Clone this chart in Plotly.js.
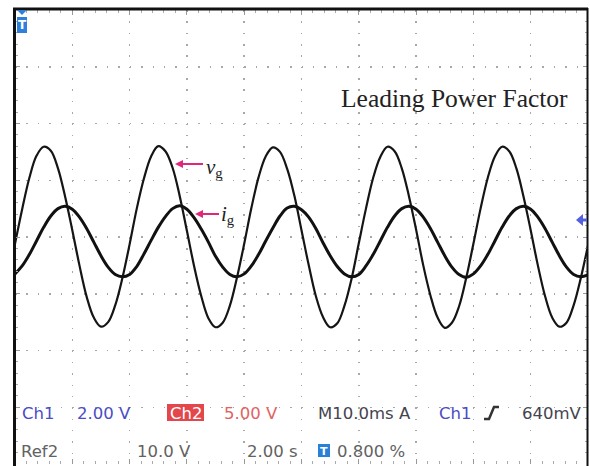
<!DOCTYPE html>
<html>
<head>
<meta charset="utf-8">
<script src="https://cdn.plot.ly/plotly-3.0.1.min.js"></script>
<style>html,body{margin:0;padding:0;background:#fff;}#chart{width:590px;height:466px;}</style>
</head>
<body>
<div id="chart"></div>
<script>
// time axis in ms (10 ms / division), sampled every 1.25 ms
const timeMs = [0,1.25,2.5,3.75,5,6.25,7.5,8.75,10,11.25,12.5,13.75,15,16.25,17.5,18.75,
20,21.25,22.5,23.75,25,26.25,27.5,28.75,30,31.25,32.5,33.75,35,36.25,37.5,38.75,
40,41.25,42.5,43.75,45,46.25,47.5,48.75,50,51.25,52.5,53.75,55,56.25,57.5,58.75,
60,61.25,62.5,63.75,65,66.25,67.5,68.75,70,71.25,72.5,73.75,75,76.25,77.5,78.75,
80,81.25,82.5,83.75,85,86.25,87.5,88.75,90,91.25,92.5,93.75,95,96.25,97.5,98.75,100];

// grid voltage v_g, in screen divisions
const vg = [-0.12,0.49,1.04,1.43,1.59,1.52,1.21,0.71,0.12,-0.50,-1.05,-1.42,-1.58,-1.50,-1.20,-0.72,
-0.13,0.50,1.03,1.42,1.60,1.51,1.22,0.72,0.11,-0.51,-1.04,-1.43,-1.59,-1.51,-1.21,-0.71,
-0.12,0.51,1.05,1.42,1.58,1.50,1.20,0.73,0.12,-0.49,-1.04,-1.41,-1.59,-1.52,-1.21,-0.73,
-0.11,0.50,1.04,1.41,1.59,1.51,1.21,0.72,0.13,-0.50,-1.03,-1.42,-1.60,-1.51,-1.22,-0.72,
-0.12,0.50,1.04,1.42,1.59,1.51,1.21,0.71,0.12,-0.50,-1.04,-1.42,-1.58,-1.51,-1.20,-0.72,-0.15];

// grid current i_g, in screen divisions
const ig = [-0.65,-0.51,-0.31,-0.07,0.17,0.37,0.50,0.54,0.49,0.35,0.15,-0.09,-0.33,-0.53,-0.66,-0.70,
-0.66,-0.52,-0.30,-0.06,0.17,0.36,0.50,0.55,0.49,0.34,0.14,-0.09,-0.34,-0.53,-0.66,-0.70,
-0.65,-0.51,-0.31,-0.07,0.16,0.37,0.51,0.54,0.48,0.35,0.15,-0.10,-0.33,-0.52,-0.65,-0.70,
-0.66,-0.51,-0.31,-0.07,0.17,0.37,0.50,0.54,0.49,0.35,0.15,-0.09,-0.33,-0.53,-0.66,-0.71,
-0.65,-0.51,-0.31,-0.07,0.17,0.37,0.50,0.54,0.49,0.35,0.15,-0.09,-0.33,-0.53,-0.66,-0.70,-0.67];

const titleText = "Leading Power Factor";
const statusRow1 = ["Ch1", "2.00 V", "Ch2", "5.00 V", "M10.0ms A", "Ch1", "640mV"];
const statusRow2 = ["Ref2", "10.0 V", "2.00 s", "0.800 %"];

// pixel -> paper helpers (plot area: x 15..588, y 10..464)
const L = 15, R = 588, T = 10, B = 464;
const px = x => (x - L) / (R - L);
const py = y => (B - y) / (B - T);

const BLUE = '#4a4dc4', GRAYD = '#44444f', GRAY = '#626262', PINK = '#e0287a';
const font = (size, color, family) => ({family: family || 'DejaVu Sans', size: size, color: color});

function txt(text, x, y, f, anchor) {
  return {text: text, xref: 'paper', yref: 'paper', x: px(x), y: py(y),
    xanchor: anchor || 'left', yanchor: 'middle', showarrow: false, font: f};
}
function poly(pts) {
  return 'M' + pts.map(p => px(p[0]) + ',' + py(p[1])).join('L') + 'Z';
}
function hline(x0, x1, y, color, w) {
  return {type: 'line', xref: 'paper', yref: 'paper', x0: px(x0), x1: px(x1), y0: py(y), y1: py(y), line: {color: color, width: w}};
}
function vline(x, y0, y1, color, w) {
  return {type: 'line', xref: 'paper', yref: 'paper', x0: px(x), x1: px(x), y0: py(y0), y1: py(y1), line: {color: color, width: w}};
}
function fillPath(pts, color) {
  return {type: 'path', xref: 'paper', yref: 'paper', path: poly(pts), fillcolor: color, line: {width: 0}};
}

const traces = [
  {x: timeMs, y: vg, type: 'scatter', mode: 'lines', name: 'vg',
   line: {color: '#151515', width: 2.2, shape: 'spline', smoothing: 1}},
  {x: timeMs, y: ig, type: 'scatter', mode: 'lines', name: 'ig',
   line: {color: '#111', width: 3, shape: 'spline', smoothing: 1}}
];

const annotations = [
  txt(titleText, 339, 99, font(25.5, '#222', 'Liberation Serif')),
  txt('<i>v</i><sub>g</sub>', 204, 168, font(21, '#222', 'Liberation Serif')),
  txt('<i>i</i><sub>g</sub>', 219, 215, font(21, '#222', 'Liberation Serif')),
  // status row 1
  txt(statusRow1[0], 20, 413, font(16.5, BLUE)),
  txt(statusRow1[1], 75, 413, font(16.5, BLUE)),
  txt(statusRow1[2], 185.5, 413, font(16.5, '#fff'), 'center'),
  txt(statusRow1[3], 222, 413, font(16.5, '#e06464')),
  txt(statusRow1[4], 316, 413, font(16.5, GRAYD)),
  txt(statusRow1[5], 437, 413, font(16.5, BLUE)),
  txt(statusRow1[6], 520, 413, font(16.5, GRAYD)),
  // status row 2
  txt(statusRow2[0], 19, 451, font(16.5, GRAY)),
  txt(statusRow2[1], 135, 451, font(16.5, GRAY)),
  txt(statusRow2[2], 245, 451, font(16.5, GRAY)),
  txt(statusRow2[3], 335, 451, font(16.5, GRAY)),
  txt('<b>T</b>', 324, 451, font(11, '#fff'), 'center'),
  txt('<b>T</b>', 22, 25, font(12, '#fff'), 'center')
];

const shapes = [
  // frame
  hline(13, 588, 9, '#111', 3),
  vline(14.5, 8, 466, '#111', 3),
  vline(587.5, 8, 466, '#111', 2),
  // trigger position marker (top-left)
  fillPath([[17,10],[27,10],[22,15]], '#2f80dc'),
  {type: 'rect', xref: 'paper', yref: 'paper', x0: px(17), x1: px(27), y0: py(17), y1: py(33), fillcolor: '#2f80dc', line: {width: 0}},
  // trigger level marker (right)
  fillPath([[576,220],[583,214],[583,226]], '#5560e0'),
  {type: 'rect', xref: 'paper', yref: 'paper', x0: px(582), x1: px(587), y0: py(218.5), y1: py(221.5), fillcolor: '#5560e0', line: {width: 0}},
  // label arrows
  hline(181, 203, 164, PINK, 2),
  fillPath([[175,164],[183,160],[183,168]], PINK),
  hline(201, 219, 214, PINK, 2),
  fillPath([[195,214],[203,210],[203,218]], PINK),
  // Ch2 badge
  {type: 'rect', xref: 'paper', yref: 'paper', x0: px(167), x1: px(204), y0: py(404), y1: py(421), fillcolor: '#e3474c', line: {width: 0}},
  // T badge bottom
  {type: 'rect', xref: 'paper', yref: 'paper', x0: px(318), x1: px(330), y0: py(444), y1: py(457), fillcolor: '#2a7fd6', line: {width: 0}},
  // rising edge trigger glyph
  {type: 'path', xref: 'paper', yref: 'paper',
   path: 'M' + px(484) + ',' + py(419) + 'L' + px(489) + ',' + py(419) + 'L' + px(494) + ',' + py(407) + 'L' + px(499) + ',' + py(407),
   line: {color: '#333', width: 2.5}}
];

const layout = {
  width: 590, height: 466,
  margin: {l: L, r: 590 - R, t: T, b: 466 - B, pad: 0},
  paper_bgcolor: '#fff', plot_bgcolor: '#fff',
  showlegend: false,
  xaxis: {range: [0, 100], dtick: 10, tick0: 0, showticklabels: false, zeroline: false,
    showgrid: true, gridcolor: '#a8a8a8', gridwidth: 1.5, griddash: '1.5px,9.85px',
    ticks: 'inside', ticklen: 5, tickcolor: '#999', tickwidth: 1, mirror: 'ticks', showline: false,
    minor: {dtick: 2, ticks: 'inside', ticklen: 3, tickcolor: '#aaa', tickwidth: 1, showgrid: false}},
  yaxis: {range: [-4, 4], dtick: 1, tick0: 0, showticklabels: false, zeroline: false,
    showgrid: true, gridcolor: '#a8a8a8', gridwidth: 1.5, griddash: '1.5px,9.96px',
    ticks: 'inside', ticklen: 5, tickcolor: '#999', tickwidth: 1, mirror: 'ticks', showline: false,
    minor: {dtick: 0.2, ticks: 'inside', ticklen: 3, tickcolor: '#aaa', tickwidth: 1, showgrid: false}},
  shapes: shapes,
  annotations: annotations
};

Plotly.newPlot('chart', traces, layout, {staticPlot: true, displayModeBar: false});
</script>
</body>
</html>
